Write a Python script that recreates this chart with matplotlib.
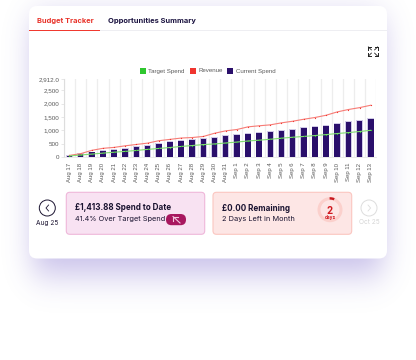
import matplotlib
matplotlib.use("Agg")
import matplotlib.pyplot as plt
import numpy as np
from math import erf
from matplotlib.patches import FancyBboxPatch, Circle, Wedge, Rectangle
from matplotlib.lines import Line2D

dates = ["Aug 17","Aug 18","Aug 19","Aug 20","Aug 21","Aug 22","Aug 23","Aug 24","Aug 25","Aug 26",
         "Aug 27","Aug 28","Aug 29","Aug 30","Aug 31","Sep 1","Sep 2","Sep 3","Sep 4","Sep 5",
         "Sep 6","Sep 7","Sep 8","Sep 9","Sep 10","Sep 11","Sep 12","Sep 13"]
current_spend = [35,110,170,225,260,310,370,420,480,555,595,630,660,730,780,820,860,890,930,990,
                 1030,1080,1115,1180,1250,1300,1365,1414]
target_spend = [40,75,110,145,180,210,245,285,320,355,395,430,465,490,525,560,600,630,665,705,
                740,770,805,840,880,915,955,1000]
revenue = [60,125,250,325,360,420,470,520,610,660,710,730,770,890,980,1030,1130,1170,1205,1280,
           1340,1415,1480,1565,1690,1780,1850,1940]
y_ticks = [0,500,1000,1500,2000,2500,2912]
y_labels = ["0","500","1,000","1,500","2,000","2,500","2,912.0"]
y_max = 2912
tabs = ["Budget Tracker","Opportunities Summary"]
legend_names = ["Target Spend","Revenue","Current Spend"]

W,H = 416,360
UI = "Inter"
LAB = "Liberation Sans"
NAVY="#1B1340"
LABC="#5A5A5A"
fig = plt.figure(figsize=(W/100,H/100),dpi=100,facecolor="white")
bg = fig.add_axes([0,0,1,1],zorder=0)
bg.set_xlim(0,W); bg.set_ylim(H,0); bg.axis("off")

def rbox(ax,x0,y0,x1,y1,r,fc,ec="none",lw=0,alpha=None,z=1):
    p = FancyBboxPatch((x0+r,y0+r),x1-x0-2*r,y1-y0-2*r,boxstyle=f"round,pad={r},rounding_size={r}",
                       fc=fc,ec=ec,lw=lw,alpha=alpha,zorder=z)
    ax.add_patch(p); return p

# soft blurred shadow behind the card
def soft(a,b,s,n):
    return np.array([0.5*(erf((i+0.5-a)/(s*2**0.5))-erf((i+0.5-b)/(s*2**0.5))) for i in range(n)])
sx = soft(33,383,14,W); sy = soft(18,274,17,H)
sh = np.zeros((H,W,4))
sh[...,0]=0.42; sh[...,1]=0.34; sh[...,2]=0.78
sh[...,3]=0.38*np.outer(sy,sx)
bg.imshow(sh,extent=(0,W,H,0),aspect="auto",zorder=1,interpolation="bilinear")
bg.set_xlim(0,W); bg.set_ylim(H,0)
rbox(bg,29,6,387,258.5,8,"white",z=2)

# tabs
bg.text(37,20.5,tabs[0],color="#E8332A",fontsize=5.4,fontweight="bold",family=UI,va="center",zorder=3)
bg.text(108,20.5,tabs[1],color=NAVY,fontsize=5.4,fontweight="bold",family=UI,va="center",zorder=3)
bg.add_patch(Rectangle((29,30),358,1,fc="#EEEEF2",zorder=3))
bg.add_patch(Rectangle((29,29.7),71,1.1,fc="#F0392F",zorder=4))

# expand icon
cx,cy=373,51.5
for dx,dy in [(-1,-1),(1,-1),(-1,1),(1,1)]:
    ox,oy=cx+dx*4.6,cy+dy*4.6
    bg.add_line(Line2D([ox,ox-dx*3],[oy,oy],color="#222",lw=0.7,zorder=3))
    bg.add_line(Line2D([ox,ox],[oy,oy-dy*3],color="#222",lw=0.7,zorder=3))
    bg.add_line(Line2D([ox,ox-dx*3],[oy,oy-dy*3],color="#222",lw=0.6,zorder=3))

# legend
leg_colors=["#2FC72F","#F0352F","#2A0F6B"]
leg_x=[140,190,227]
for n,c,x in zip(legend_names,leg_colors,leg_x):
    bg.add_patch(Rectangle((x,68),6,6,fc=c,zorder=3))
    bg.text(x+8.5,71,n,fontsize=4.4,family=LAB,color=LABC,va="center",zorder=3)

# chart
x0,x1,ytop,ybot=63.9,376.3,79.3,157
ax = fig.add_axes([x0/W,1-ybot/H,(x1-x0)/W,(ybot-ytop)/H],zorder=2)
ax.patch.set_alpha(0)
xs=list(range(len(dates)))
ax.set_xlim(-0.5,len(dates)-0.5); ax.set_ylim(0,y_max)
for i in range(len(dates)+1):
    ax.axvline(i-0.5,color="#EDEDED",lw=0.9,zorder=1)
ax.bar(xs,[v+35 for v in current_spend],width=0.6,color="#CFC9E6",zorder=2)
ax.bar(xs,current_spend,width=0.5,color="#2A0F6B",zorder=3)
ax.plot(xs,revenue,color="#F77B75",lw=0.8,zorder=4)
ax.plot(xs,revenue,ls="none",marker="o",ms=0.9,mew=0,color="#F0352F",zorder=5)
ax.plot(xs,target_spend,color="#7FDC6F",lw=0.8,zorder=6)
ax.plot(xs,target_spend,ls="none",marker="o",ms=0.9,mew=0,color="#2FC72F",zorder=7)
ax.set_yticks(y_ticks); ax.set_yticklabels(y_labels,fontsize=4.5,family=LAB,color=LABC)
ax.set_xticks(xs); ax.set_xticklabels(dates,fontsize=4.3,family=LAB,color=LABC,rotation=90)
ax.tick_params(axis="y",length=2,width=0.5,color="#DDDDDD",pad=1.5)
ax.tick_params(axis="x",length=0,pad=4)
for s in ["top","right"]:
    ax.spines[s].set_visible(False)
ax.spines["left"].set_color("#DDDDDD"); ax.spines["bottom"].set_color("#E6E6E6")
ax.spines["left"].set_linewidth(0.8); ax.spines["bottom"].set_linewidth(0.6)

# pink card
rbox(bg,66.3,192.3,204.7,234.3,3.5,"#F8E2F2","#EFB7DA",0.8,z=3)
bg.text(75,207.2,"£1,413.88 Spend to Date",fontsize=5.8,fontweight="bold",family=UI,color="#1A1330",va="center",zorder=4)
bg.text(75,219.3,"41.4% Over Target Spend",fontsize=5.3,family=UI,color="#1A1330",va="center",zorder=4)
rbox(bg,166,214,186,225.2,5.5,"#A8175F",z=4)
bg.add_line(Line2D([180,173],[223,216.5],color="#F3C6DE",lw=0.8,zorder=5))
bg.add_line(Line2D([173,173,177.5],[220.5,216.5,216.5],color="#F3C6DE",lw=0.8,zorder=5))

# red card
rbox(bg,213,192.3,351.7,234.3,3.5,"#FDE6E5","#FBC6C0",0.8,z=3)
bg.text(222,208.2,"£0.00 Remaining",fontsize=5.8,fontweight="bold",family=UI,color="#1A1330",va="center",zorder=4)
bg.text(222,219.3,"2 Days Left in Month",fontsize=5.3,family=UI,color="#1A1330",va="center",zorder=4)
bg.add_patch(Wedge((330,209.7),12.5,0,360,width=3,fc="#FBD0CC",ec="none",zorder=4))
bg.add_patch(Wedge((330,209.7),12.5,270-2,270+22,width=2.4,fc="#C8181E",ec="none",zorder=5))
bg.text(330,211,"2",fontsize=7.0,fontweight="bold",family=UI,color="#D0181E",ha="center",va="center",zorder=5)
bg.text(330,217.5,"days",fontsize=3.4,fontweight="bold",family=UI,color="#D0181E",ha="center",va="center",zorder=5)

# navigation
bg.add_patch(Circle((47.3,208),8,fc="white",ec="#1A1330",lw=0.7,zorder=4))
bg.add_line(Line2D([48.6,46,48.6],[205,208,211],color="#1A1330",lw=0.6,zorder=5))
bg.text(47.3,222.5,"Aug 25",fontsize=4.7,family=UI,color="#1A1330",ha="center",va="center",zorder=4)
bg.add_patch(Circle((369,208),8,fc="white",ec="#DDDDDD",lw=0.7,zorder=4))
bg.add_line(Line2D([368,370.6,368],[205,208,211],color="#DDDDDD",lw=0.6,zorder=5))
bg.text(369,222.5,"Oct 25",fontsize=4.7,family=UI,color="#D5D5D5",ha="center",va="center",zorder=4)

fig.savefig("out.png",dpi=100)
